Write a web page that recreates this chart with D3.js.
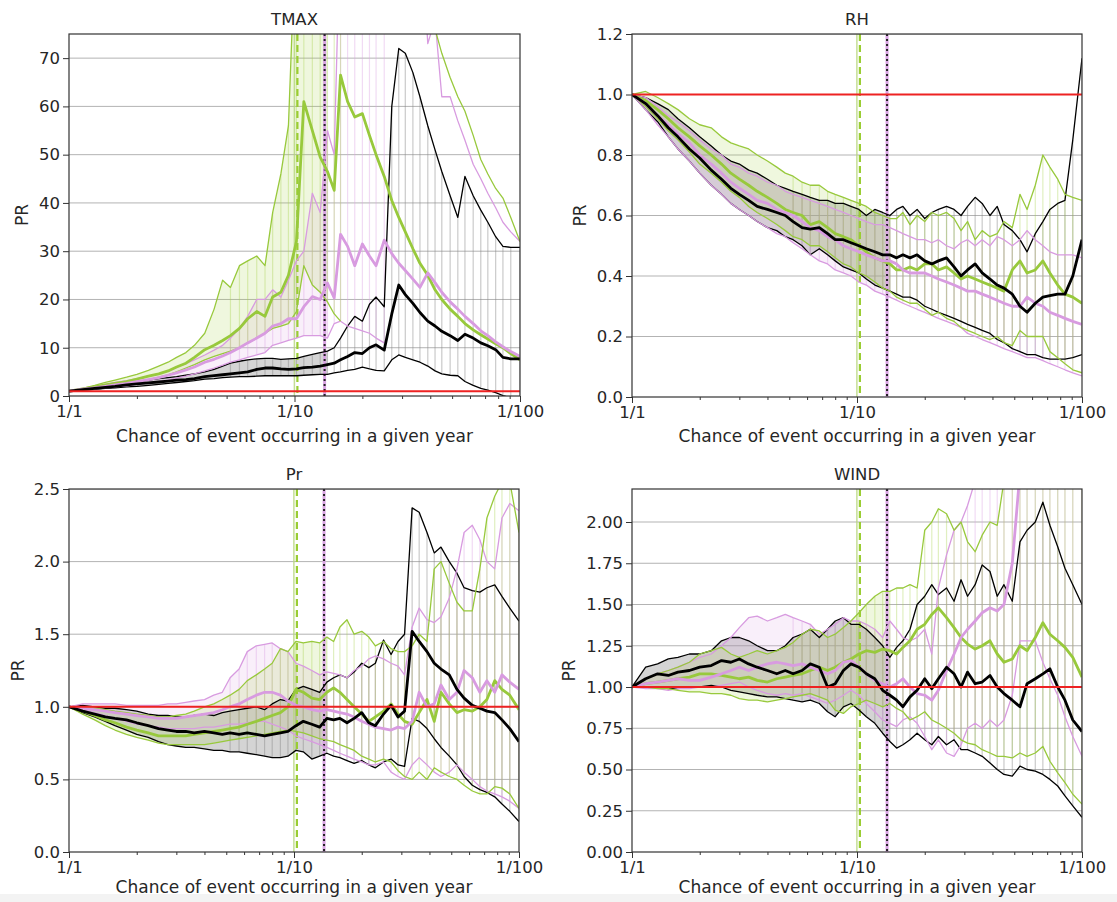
<!DOCTYPE html>
<html><head><meta charset="utf-8">
<script src="https://cdn.jsdelivr.net/npm/d3@7"></script>
<style>
body{margin:0;background:#fff;}
svg text{font-family:"DejaVu Sans",sans-serif;fill:#262626;}
</style>
</head><body>
<svg id="c" width="1117" height="902"></svg>
<script>
// ---------- DATA ----------
const returnPeriods = [1,1.15,1.3,1.45,1.6, 1.8,2,2.25,2.5,2.75, 3,3.3,3.6,4,4.4, 4.8,5.2,5.7,6.2,6.8,
  7.4,8,8.7,9.4,10.2, 11,12,13,14,15, 16,17.2,18.5,20,21.5, 23,25,27,29,31, 33.5,36,39,42,45, 49,53,57,62,67, 72,78,84,91,100];
const xTickValues = [1, 10, 100];
const xTickLabels = ["1/1", "1/10", "1/100"];
const xMinorTicks = [2,3,4,5,6,7,8,9,20,30,40,50,60,70,80,90];
const panelTitles = ["TMAX", "RH", "Pr", "WIND"];
const yMaxValues = [75, 1.2, 2.5, 2.2];
const tmaxTicks = [0,10,20,30,40,50,60,70];
const rhTicks = [0,0.2,0.4,0.6,0.8,1.0,1.2];
const prTicks = [0,0.5,1.0,1.5,2.0,2.5];
const windTicks = [0,0.25,0.5,0.75,1.0,1.25,1.5,1.75,2.0];
const referencePR = 1;
const greenMarkerPeriod = 10.3;
const violetMarkerPeriod = 13.6;

// TMAX
const tmaxBlackMed = [1.0,1.3,1.6,1.8,2.0, 2.3,2.5,2.7,2.9,3.1, 3.3,3.4,3.6,4.0,4.2, 4.4,4.6,4.8,5.0,5.5, 5.8,5.8,5.6,5.5,5.6, 5.9,6.0,6.2,6.5,6.8, 7.5,8.2,9.0,8.8,10.0, 10.6,9.5,17.0,23.0,21.0, 19.2,17.3,15.5,14.5,13.4, 12.5,11.5,12.8,12.0,11.0, 10.4,9.6,8.0,7.7,7.7];
const tmaxBlackHi = [1.0,1.4,1.8,2.1,2.4, 2.7,3.0,3.3,3.6,3.8, 4.0,4.3,4.6,5.0,5.5, 6.2,6.8,7.2,7.5,7.7, 7.8,7.8,7.6,7.7,7.8, 8.2,8.6,9.0,9.3,10.0, 12.0,14.5,16.5,15.5,19.0, 20.5,18.5,60.0,72.0,71.0, 67.0,62.0,56.0,51.0,46.5, 41.5,37.0,45.5,41.5,38.5, 36.0,33.0,31.0,30.8,30.8];
const tmaxBlackLo = [1.0,1.2,1.4,1.6,1.7, 1.9,2.0,2.2,2.4,2.6, 2.8,3.0,3.2,3.5,3.6, 3.8,3.9,4.0,4.0,4.1, 4.2,4.2,4.2,4.2,4.2, 4.3,4.4,4.5,4.5,4.8, 5.0,5.3,5.5,6.0,5.6, 5.3,5.2,7.5,8.5,8.0, 7.5,7.0,6.2,5.2,4.6, 4.3,4.2,3.0,2.2,1.6, 1.2,0.7,0.1,-0.4,-0.9];
const tmaxGreenMed = [1.0,1.5,1.9,2.3,2.6, 3.0,3.5,4.1,4.6,5.2, 6.0,6.8,8.0,9.6,10.5, 11.5,12.5,14.0,16.0,17.5, 16.5,20.5,21.5,25.0,32.0, 61.0,55.0,49.5,46.5,42.6, 66.5,61.0,57.8,58.5,54.0, 50.0,45.5,40.5,37.0,34.0, 30.5,27.5,25.0,22.0,20.0, 18.0,16.5,15.0,13.7,12.7, 11.8,10.8,10.0,8.8,7.5];
const tmaxGreenHi = [1.0,1.6,2.2,2.8,3.3, 3.9,4.5,5.3,6.2,7.0, 8.0,9.0,10.5,13.0,18.0, 24.0,22.5,27.0,28.0,29.0, 27.0,38.0,46.0,56.0,100, 100,100,100,100,100, 100,100,100,100,100, 100,100,100,100,100, 100,100,100,76,71, 66,62,59,54,49, 46,43,41,37,32];
const tmaxGreenLo = [1.0,1.3,1.6,1.9,2.2, 2.5,2.9,3.4,3.9,4.4, 5.0,5.8,6.5,7.5,8.2, 8.8,9.3,10.0,11.0,12.0, 13.0,14.0,14.5,15.0,17.5, 27.0,23.0,21.5,19.5,17.0, 15.5,null,null,null,null, null,null,null,null,null, null,null,null,null,null, null,null,null,null,null, null,null,null,null,null];
const tmaxVioletMed = [1.0,1.4,1.7,2.0,2.3, 2.6,3.0,3.4,3.8,4.3, 4.8,5.4,6.0,7.0,7.6, 8.3,9.0,10.0,11.0,12.0, 13.0,14.5,15.0,16.0,16.0, 18.5,20.6,20.0,23.4,20.3, 33.5,31.0,27.0,31.5,29.0, 27.0,32.3,29.5,27.5,26.0, 24.2,22.5,25.5,23.5,21.5, 19.5,18.0,16.5,15.0,13.5, 12.5,11.2,10.2,9.2,8.2];
const tmaxVioletHi = [1.0,1.5,2.0,2.4,2.8, 3.2,3.6,4.1,4.6,5.2, 6.0,6.7,7.5,8.5,9.5, 10.5,12.0,14.0,16.5,20.0, 20.0,22.0,20.5,24.0,28.0, 30.0,42.0,38.0,55.0,50.0, 100,100,100,100,100, 100,100,100,100,100, 100,100,73,78,62, 62,57,53,48,45, 42,39,36,34,32];
const tmaxVioletLo = [1.0,1.3,1.5,1.7,1.9, 2.1,2.4,2.7,3.0,3.3, 3.7,4.1,4.6,5.2,5.8, 6.4,7.0,7.5,8.0,8.5, 9.0,10.5,11.0,11.5,12.0, 12.5,12.5,12.5,12.0,15.0, 15.5,14.5,14.0,13.5,13.0, 12.0,11.0,null,null,null, null,null,null,null,null, null,null,null,null,null, null,null,null,null,null];

// RH
const rhBlackMed = [1.0,0.97,0.93,0.89,0.86, 0.82,0.79,0.75,0.72,0.69, 0.67,0.65,0.63,0.62,0.61, 0.60,0.58,0.56,0.555,0.56, 0.54,0.52,0.52,0.51,0.50, 0.49,0.48,0.47,0.47,0.46, 0.47,0.46,0.47,0.45,0.44, 0.45,0.46,0.43,0.40,0.42, 0.44,0.41,0.39,0.37,0.36, 0.34,0.30,0.28,0.31,0.33, 0.335,0.34,0.34,0.40,0.52];
const rhBlackHi = [1.0,0.99,0.97,0.95,0.92, 0.89,0.86,0.83,0.80,0.78, 0.77,0.75,0.74,0.72,0.70, 0.69,0.68,0.67,0.66,0.65, 0.65,0.64,0.64,0.63,0.62, 0.60,0.62,0.61,0.60,0.62, 0.63,0.60,0.62,0.59,0.61, 0.62,0.63,0.62,0.60,0.63, 0.66,0.64,0.60,0.63,0.57, 0.55,0.52,0.48,0.54,0.58, 0.62,0.64,0.65,0.85,1.12];
const rhBlackLo = [1.0,0.95,0.91,0.86,0.82, 0.78,0.74,0.70,0.67,0.64, 0.62,0.60,0.58,0.56,0.55, 0.53,0.52,0.50,0.47,0.49, 0.47,0.45,0.43,0.42,0.41, 0.39,0.37,0.36,0.35,0.34, 0.33,0.33,0.32,0.30,0.29, 0.28,0.27,0.26,0.25,0.24, 0.23,0.22,0.21,0.19,0.18, 0.16,0.15,0.14,0.14,0.13, 0.125,0.125,0.125,0.13,0.14];
const rhGreenMed = [1.0,0.98,0.95,0.92,0.89, 0.86,0.83,0.80,0.77,0.74, 0.72,0.70,0.68,0.66,0.64, 0.62,0.61,0.60,0.57,0.58, 0.56,0.54,0.53,0.52,0.50, 0.48,0.46,0.45,0.44,0.42, 0.42,0.43,0.42,0.44,0.44, 0.42,0.43,0.41,0.39,0.40, 0.39,0.38,0.37,0.36,0.35, 0.42,0.45,0.41,0.42,0.45, 0.41,0.37,0.34,0.33,0.31];
const rhGreenHi = [1.0,1.01,0.99,0.97,0.95, 0.92,0.90,0.89,0.86,0.84, 0.83,0.82,0.80,0.78,0.76, 0.74,0.73,0.71,0.70,0.70, 0.68,0.67,0.66,0.65,0.64, 0.63,0.61,0.60,0.59,0.59, 0.61,0.57,0.60,0.58,0.61, 0.60,0.61,0.59,0.55,0.58, 0.52,0.55,0.53,0.54,0.58, 0.56,0.67,0.62,0.70,0.80, 0.76,0.72,0.67,0.66,0.65];
const rhGreenLo = [1.0,0.96,0.92,0.88,0.85, 0.81,0.77,0.74,0.71,0.68, 0.66,0.63,0.61,0.59,0.57, 0.55,0.53,0.52,0.50,0.50, 0.48,0.46,0.44,0.43,0.41, 0.40,0.38,0.36,0.35,0.33, 0.32,0.31,0.31,0.29,0.27, 0.28,0.26,0.25,0.23,0.22, 0.21,0.20,0.19,0.20,0.18, 0.17,0.22,0.20,0.20,0.20, 0.15,0.13,0.11,0.09,0.08];
const rhVioletMed = [1.0,0.97,0.93,0.90,0.87, 0.84,0.80,0.77,0.74,0.71, 0.69,0.67,0.65,0.64,0.62, 0.61,0.60,0.58,0.56,0.55, 0.53,0.52,0.50,0.49,0.48, 0.47,0.46,0.45,0.45,0.44, 0.42,0.41,0.41,0.41,0.40, 0.39,0.38,0.37,0.36,0.35, 0.35,0.34,0.33,0.32,0.31, 0.30,0.30,0.33,0.31,0.30, 0.28,0.27,0.26,0.25,0.24];
const rhVioletHi = [1.0,0.99,0.96,0.93,0.91, 0.88,0.85,0.82,0.80,0.77, 0.76,0.74,0.73,0.71,0.70, 0.68,0.67,0.66,0.65,0.64, 0.63,0.62,0.61,0.60,0.59, 0.58,0.57,0.57,0.56,0.55, 0.54,0.53,0.52,0.52,0.51, 0.52,0.50,0.49,0.51,0.52, 0.50,0.52,0.50,0.53,0.52, 0.50,0.52,0.55,0.52,0.50, 0.48,0.47,0.47,0.47,0.46];
const rhVioletLo = [1.0,0.95,0.90,0.86,0.82, 0.78,0.74,0.70,0.67,0.64, 0.62,0.60,0.58,0.56,0.54, 0.53,0.51,0.49,0.47,0.45, 0.44,0.42,0.41,0.40,0.38, 0.37,0.35,0.34,0.33,0.32, 0.31,0.30,0.29,0.28,0.27, 0.26,0.25,0.24,0.23,0.21, 0.20,0.19,0.18,0.17,0.16, 0.15,0.14,0.13,0.13,0.12, 0.11,0.10,0.09,0.08,0.07];

// Pr
const prBlackMed = [1.0,0.97,0.95,0.93,0.92, 0.91,0.89,0.87,0.85,0.84, 0.83,0.83,0.82,0.83,0.82, 0.81,0.82,0.81,0.82,0.81, 0.80,0.81,0.82,0.83,0.87, 0.90,0.88,0.86,0.92,0.91, 0.92,0.89,0.92,0.96,0.89, 0.87,0.95,1.01,0.93,0.97, 1.52,1.45,1.38,1.30,1.26, 1.22,1.12,1.06,1.01,0.99, 0.97,0.96,0.91,0.85,0.76];
const prBlackHi = [1.0,1.01,1.0,0.99,0.99, 0.98,0.97,0.95,0.94,0.94, 0.93,0.93,0.94,0.95,0.94, 0.96,0.97,0.98,0.99,1.00, 0.98,1.02,1.05,1.04,1.12, 1.14,1.12,1.10,1.17,1.20, 1.22,1.20,1.24,1.30,1.27, 1.30,1.46,1.36,1.45,1.50, 2.37,2.34,2.20,2.06,2.10, 2.00,1.92,1.82,1.80,1.79, 1.82,1.84,1.76,1.68,1.59];
const prBlackLo = [1.0,0.96,0.93,0.90,0.87, 0.84,0.81,0.79,0.76,0.74, 0.73,0.72,0.72,0.71,0.70, 0.70,0.69,0.69,0.68,0.67, 0.66,0.65,0.65,0.66,0.70, 0.69,0.64,0.66,0.68,0.66, 0.65,0.63,0.61,0.63,0.60, 0.58,0.62,0.64,0.60,0.59, 0.92,0.90,0.85,0.78,0.72, 0.66,0.60,0.52,0.46,0.43, 0.41,0.38,0.33,0.28,0.21];
const prGreenMed = [1.0,0.97,0.94,0.91,0.89, 0.86,0.84,0.82,0.80,0.80, 0.80,0.80,0.81,0.82,0.83, 0.84,0.85,0.86,0.88,0.90, 0.92,0.94,0.96,1.00,1.12, 1.10,1.06,1.05,1.10,1.13, 1.10,1.05,1.00,0.95,0.90, 0.93,0.97,1.02,0.95,0.90, 0.88,0.96,1.05,0.90,1.10, 1.02,0.96,0.98,0.97,1.00, 1.05,1.18,1.12,1.08,0.98];
const prGreenHi = [1.0,1.0,0.99,0.98,0.97, 0.96,0.95,0.94,0.93,0.93, 0.94,0.95,0.97,1.00,1.02, 1.05,1.08,1.12,1.18,1.22, 1.26,1.30,1.40,1.38,1.45, 1.44,1.45,1.44,1.48,1.45, 1.55,1.60,1.50,1.52,1.48, 1.42,1.45,1.40,1.38,1.38, 1.42,1.50,1.45,1.95,2.00, 1.85,1.72,1.66,1.66,1.95, 2.30,2.45,2.55,2.55,2.20];
const prGreenLo = [1.0,0.95,0.91,0.87,0.84, 0.81,0.79,0.77,0.75,0.74, 0.74,0.74,0.74,0.74,0.75, 0.76,0.77,0.78,0.79,0.80, 0.81,0.82,0.83,0.84,0.83, 0.82,0.80,0.78,0.77,0.76, 0.74,0.72,0.70,0.66,0.64, 0.62,0.64,0.62,0.56,0.52, 0.50,0.55,0.50,0.58,0.55, 0.52,0.50,0.46,0.42,0.40, 0.40,0.45,0.44,0.40,0.30];
const prVioletMed = [1.0,0.99,0.98,0.97,0.96, 0.95,0.94,0.93,0.92,0.92, 0.92,0.93,0.94,0.95,0.96, 0.98,1.00,1.02,1.05,1.08, 1.10,1.10,1.08,1.04,1.01, 1.00,0.98,0.97,0.98,0.97, 0.96,0.95,0.93,0.90,0.88, 0.86,0.85,0.84,0.86,0.85, 0.90,1.10,1.00,1.02,1.15, 1.05,1.10,1.25,1.20,1.10, 1.18,1.10,1.22,1.17,1.12];
const prVioletHi = [1.0,1.02,1.02,1.02,1.02, 1.01,1.01,1.01,1.01,1.02, 1.02,1.03,1.04,1.05,1.08, 1.10,1.20,1.26,1.38,1.42, 1.43,1.44,1.40,1.38,1.30, 1.28,1.25,1.22,1.24,1.23, 1.22,1.20,1.25,1.28,1.33, 1.35,1.33,1.30,1.28,1.22, 1.55,1.68,1.60,1.58,1.62, 1.75,1.95,2.20,2.25,2.15, 2.00,1.95,2.30,2.40,2.35];
const prVioletLo = [1.0,0.98,0.96,0.94,0.92, 0.90,0.88,0.87,0.86,0.85, 0.85,0.85,0.85,0.86,0.86, 0.87,0.88,0.88,0.89,0.90, 0.90,0.88,0.86,0.84,0.80, 0.78,0.76,0.74,0.72,0.70, 0.68,0.66,0.64,0.62,0.60, 0.60,0.62,0.55,0.52,0.50, 0.60,0.65,0.60,0.55,0.52, 0.55,0.60,0.55,0.50,0.45, 0.42,0.40,0.38,0.35,0.30];

// WIND
const windBlackMed = [1.0,1.05,1.08,1.07,1.09, 1.10,1.12,1.13,1.16,1.15, 1.17,1.14,1.12,1.10,1.08, 1.10,1.08,1.10,1.14,1.12, 1.00,1.02,1.10,1.14,1.12, 1.08,1.05,0.98,0.95,0.92, 0.88,0.94,0.98,1.05,0.99, 1.05,1.12,1.08,1.00,1.09, 1.02,1.03,1.07,1.00,0.96, 0.92,0.88,1.02,1.05,1.08, 1.11,1.00,0.92,0.80,0.73];
const windBlackHi = [1.0,1.12,1.14,1.17,1.18, 1.20,1.20,1.22,1.28,1.30, 1.30,1.28,1.25,1.22,1.22, 1.25,1.30,1.32,1.35,1.30, 1.35,1.40,1.42,1.38,1.38, 1.35,1.30,1.25,1.18,1.24, 1.28,1.35,1.50,1.55,1.62, 1.56,1.60,1.52,1.65,1.55, 1.62,1.74,1.70,1.55,1.62, 1.52,1.88,1.95,2.00,2.12, 1.98,1.85,1.72,1.62,1.50];
const windBlackLo = [1.0,1.0,1.0,0.99,0.99, 1.00,1.00,1.01,1.00,0.98, 0.97,0.96,0.95,0.94,0.94, 0.93,0.92,0.91,0.92,0.90, 0.85,0.82,0.88,0.90,0.86, 0.82,0.78,0.72,0.67,0.63, 0.65,0.68,0.72,0.68,0.65, 0.70,0.65,0.68,0.62,0.62, 0.60,0.58,0.54,0.50,0.47, 0.46,0.52,0.50,0.49,0.47, 0.44,0.40,0.34,0.28,0.21];
const windGreenMed = [1.0,1.02,1.03,1.04,1.05, 1.06,1.08,1.08,1.07,1.06, 1.05,1.06,1.04,1.03,1.05, 1.06,1.07,1.08,1.10,1.12, 1.10,1.12,1.15,1.17,1.20, 1.22,1.21,1.23,1.22,1.20, 1.24,1.28,1.35,1.38,1.44, 1.48,1.42,1.36,1.30,1.26, 1.23,1.25,1.28,1.20,1.15, 1.17,1.25,1.22,1.30,1.39, 1.32,1.28,1.24,1.18,1.06];
const windGreenHi = [1.0,1.05,1.08,1.10,1.12, 1.15,1.20,1.22,1.24,1.20, 1.18,1.20,1.22,1.20,1.22, 1.24,1.27,1.32,1.35,1.34, 1.30,1.32,1.36,1.40,1.45, 1.50,1.55,1.58,1.58,1.60, 1.60,1.62,1.60,1.95,2.00, 2.08,2.05,1.95,2.00,1.88, 1.82,1.92,2.00,1.98,2.25, 2.40,2.60,2.80,2.90,3.00, 2.90,2.90,2.90,2.90,2.90];
const windGreenLo = [1.0,1.0,0.99,0.99,0.98, 0.97,0.97,0.96,0.96,0.95, 0.93,0.92,0.92,0.91,0.92, 0.93,0.94,0.95,0.96,0.94, 0.92,0.86,0.84,0.88,0.90, 0.92,0.90,0.88,0.90,0.87, 0.85,0.80,0.82,0.85,0.80, 0.78,0.75,0.72,0.68,0.66, 0.65,0.62,0.60,0.58,0.58, 0.57,0.60,0.58,0.60,0.64, 0.55,0.48,0.42,0.35,0.29];
const windVioletMed = [1.0,1.02,1.03,1.04,1.05, 1.04,1.04,1.06,1.08,1.10, 1.12,1.10,1.12,1.14,1.15, 1.14,1.13,1.14,1.12,1.10, 1.08,1.10,1.15,1.16,1.12, 1.08,1.04,1.02,1.00,1.02, 1.05,1.00,0.96,0.95,0.92, 0.98,1.10,1.20,1.30,1.35, 1.40,1.45,1.48,1.46,1.50, 1.75,2.30,2.60,2.80,2.90, 3.0,3.0,3.0,3.0,3.0];
const windVioletHi = [1.0,1.05,1.08,1.10,1.12, 1.15,1.18,1.20,1.25,1.30, 1.36,1.42,1.43,1.40,1.42, 1.44,1.42,1.40,1.38,1.32, 1.35,1.38,1.42,1.40,1.40, 1.38,1.35,1.30,1.40,1.35, 1.30,1.28,1.30,1.35,1.20, 1.60,1.80,1.95,2.00,2.10, 2.25,2.40,2.50,2.60,2.70, 2.80,2.90,3.0,3.0,3.0, 3.0,3.0,3.0,3.0,3.0];
const windVioletLo = [1.0,0.99,0.99,0.98,0.99, 0.99,1.00,1.00,1.01,1.02, 1.03,1.00,0.98,0.96,0.95, 0.96,0.95,0.96,0.94,0.92, 0.90,0.92,0.95,0.98,0.95, 0.90,0.85,0.80,0.78,0.76, 0.80,0.82,0.78,0.70,0.62, 0.68,0.60,0.58,0.65,0.75, 0.78,0.75,0.80,0.76,0.80, 0.95,1.28,1.28,1.28,1.15, 1.05,0.95,0.82,0.70,0.58];

// ---------- PANEL SETUP ----------
const panels = [
  {title: panelTitles[0], yMax: yMaxValues[0], ticks: tmaxTicks, fmt: d3.format("d"),
   series: {black: [tmaxBlackLo, tmaxBlackMed, tmaxBlackHi], green: [tmaxGreenLo, tmaxGreenMed, tmaxGreenHi], violet: [tmaxVioletLo, tmaxVioletMed, tmaxVioletHi]}},
  {title: panelTitles[1], yMax: yMaxValues[1], ticks: rhTicks, fmt: d3.format(".1f"),
   series: {black: [rhBlackLo, rhBlackMed, rhBlackHi], green: [rhGreenLo, rhGreenMed, rhGreenHi], violet: [rhVioletLo, rhVioletMed, rhVioletHi]}},
  {title: panelTitles[2], yMax: yMaxValues[2], ticks: prTicks, fmt: d3.format(".1f"),
   series: {black: [prBlackLo, prBlackMed, prBlackHi], green: [prGreenLo, prGreenMed, prGreenHi], violet: [prVioletLo, prVioletMed, prVioletHi]}},
  {title: panelTitles[3], yMax: yMaxValues[3], ticks: windTicks, fmt: d3.format(".2f"),
   series: {black: [windBlackLo, windBlackMed, windBlackHi], green: [windGreenLo, windGreenMed, windGreenHi], violet: [windVioletLo, windVioletMed, windVioletHi]}}
];

const layout = [
  {x0: 69, x1: 520, y0: 34, y1: 396, ylabX: 22, xlabDy: 46},
  {x0: 632, x1: 1082, y0: 34, y1: 397, ylabX: 580, xlabDy: 45},
  {x0: 69, x1: 519, y0: 489, y1: 852, ylabX: 18, xlabDy: 41},
  {x0: 632, x1: 1082, y0: 489, y1: 852, ylabX: 569, xlabDy: 41}
];

const styles = {
  black:  {line: "#000000", fill: "#7a7a7a", fillOp: 0.32, hatch: "#8a8a8a", hatchOp: 0.45},
  green:  {line: "#98c93c", fill: "#a6d24a", fillOp: 0.18, hatch: "#a6d24a", hatchOp: 0.35},
  violet: {line: "#d89be0", fill: "#e0aee6", fillOp: 0.20, hatch: "#dca6e3", hatchOp: 0.40}
};

const svg = d3.select("#c");
svg.append("rect").attr("x", 0).attr("y", 894).attr("width", 1117).attr("height", 8).attr("fill", "#f3f3f3");

panels.forEach((p, pi) => {
  const L = layout[pi];
  const x = d3.scaleLog().domain([1, 100]).range([L.x0, L.x1]);
  const y = d3.scaleLinear().domain([0, p.yMax]).range([L.y1, L.y0]);
  const clipId = "clip" + pi;
  svg.append("clipPath").attr("id", clipId).append("rect")
    .attr("x", L.x0).attr("y", L.y0).attr("width", L.x1 - L.x0).attr("height", L.y1 - L.y0);
  const g = svg.append("g");
  const plot = g.append("g").attr("clip-path", `url(#${clipId})`);
  const yc = v => y(Math.max(-0.2 * p.yMax, Math.min(v, 2 * p.yMax)));

  // horizontal grid
  plot.selectAll("line.grid").data(p.ticks.filter(t => t > 0)).join("line")
    .attr("x1", L.x0).attr("x2", L.x1).attr("y1", d => y(d)).attr("y2", d => y(d))
    .attr("stroke", "#b3b3b3").attr("stroke-width", 1);

  const order = ["black", "violet", "green"];
  // area fills (dense low-return-period part)
  order.forEach(k => {
    const [lo, , hi] = p.series[k];
    const st = styles[k];
    const area = d3.area()
      .defined((d, i) => lo[i] != null && hi[i] != null && d <= 14)
      .x(d => x(d)).y0((d, i) => yc(lo[i])).y1((d, i) => yc(hi[i]));
    plot.append("path").datum(returnPeriods).attr("d", area)
      .attr("fill", st.fill).attr("fill-opacity", st.fillOp);
  });
  // vertical hatch between bounds
  order.forEach(k => {
    const [lo, , hi] = p.series[k];
    const st = styles[k];
    const idx = returnPeriods.map((d, i) => i).filter(i => returnPeriods[i] >= 5 && lo[i] != null && hi[i] != null);
    plot.selectAll(null).data(idx).join("line")
      .attr("x1", i => x(returnPeriods[i])).attr("x2", i => x(returnPeriods[i]))
      .attr("y1", i => yc(lo[i])).attr("y2", i => yc(hi[i]))
      .attr("stroke", st.hatch).attr("stroke-opacity", st.hatchOp).attr("stroke-width", 1.2);
  });

  // vertical markers
  plot.append("line").attr("x1", x(greenMarkerPeriod) - 3).attr("x2", x(greenMarkerPeriod) - 3)
    .attr("y1", L.y0).attr("y2", L.y1).attr("stroke", "#b5d67a").attr("stroke-width", 1.5).attr("stroke-opacity", 0.8);
  plot.append("line").attr("x1", x(greenMarkerPeriod)).attr("x2", x(greenMarkerPeriod))
    .attr("y1", L.y0).attr("y2", L.y1).attr("stroke", "#9acd32").attr("stroke-width", 2.2).attr("stroke-dasharray", "7,4");
  plot.append("line").attr("x1", x(violetMarkerPeriod)).attr("x2", x(violetMarkerPeriod))
    .attr("y1", L.y0).attr("y2", L.y1).attr("stroke", "#d9a3e3").attr("stroke-width", 3);
  plot.append("line").attr("x1", x(violetMarkerPeriod)).attr("x2", x(violetMarkerPeriod))
    .attr("y1", L.y0).attr("y2", L.y1).attr("stroke", "#222").attr("stroke-width", 2).attr("stroke-dasharray", "2,3");

  // bound lines
  const lineGen = arr => d3.line().defined((d, i) => arr[i] != null).x(d => x(d)).y((d, i) => yc(arr[i]));
  order.forEach(k => {
    const [lo, , hi] = p.series[k];
    [lo, hi].forEach(arr => {
      plot.append("path").datum(returnPeriods).attr("d", lineGen(arr))
        .attr("fill", "none").attr("stroke", styles[k].line).attr("stroke-width", 1.3)
        .attr("stroke-linejoin", "round");
    });
  });
  // medians
  ["green", "violet", "black"].forEach(k => {
    const med = p.series[k][1];
    plot.append("path").datum(returnPeriods).attr("d", lineGen(med))
      .attr("fill", "none").attr("stroke", styles[k].line).attr("stroke-width", 2.8)
      .attr("stroke-linejoin", "round");
  });

  // reference PR = 1
  plot.append("line").attr("x1", L.x0).attr("x2", L.x1).attr("y1", y(referencePR)).attr("y2", y(referencePR))
    .attr("stroke", "#ee2222").attr("stroke-width", 2);

  // axes
  const xAxis = d3.axisBottom(x).tickValues(xTickValues).tickFormat((d, i) => xTickLabels[i]).tickSizeOuter(0).tickSize(6);
  const gx = g.append("g").attr("transform", `translate(0,${L.y1})`).call(xAxis);
  const gxm = g.append("g").attr("transform", `translate(0,${L.y1})`)
    .call(d3.axisBottom(x).tickValues(xMinorTicks).tickFormat("").tickSize(3).tickSizeOuter(0));
  gxm.select(".domain").remove();
  const yAxis = d3.axisLeft(y).tickValues(p.ticks).tickFormat(p.fmt).tickSizeOuter(0).tickSize(6);
  const gy = g.append("g").attr("transform", `translate(${L.x0},0)`).call(yAxis);
  [gx, gy, gxm].forEach(a => {
    a.selectAll(".domain").remove();
    a.selectAll(".tick line").attr("stroke", "#333").attr("stroke-width", 1);
    a.selectAll(".tick text").attr("font-size", "16.5px").attr("fill", "#262626")
      .attr("font-family", "DejaVu Sans, sans-serif");
  });
  g.append("rect").attr("x", L.x0).attr("y", L.y0).attr("width", L.x1 - L.x0).attr("height", L.y1 - L.y0)
    .attr("fill", "none").attr("stroke", "#333").attr("stroke-width", 1.2);

  // texts
  g.append("text").attr("x", (L.x0 + L.x1) / 2).attr("y", L.y0 - 9).attr("text-anchor", "middle")
    .attr("font-size", "16.5px").text(p.title);
  g.append("text").attr("x", (L.x0 + L.x1) / 2).attr("y", L.y1 + L.xlabDy).attr("text-anchor", "middle")
    .attr("font-size", "17px").text("Chance of event occurring in a given year");
  g.append("text").attr("transform", `translate(${L.ylabX},${(L.y0 + L.y1) / 2}) rotate(-90)`)
    .attr("text-anchor", "middle").attr("dy", "0.35em").attr("font-size", "17px").text("PR");
});
</script>
</body></html>
